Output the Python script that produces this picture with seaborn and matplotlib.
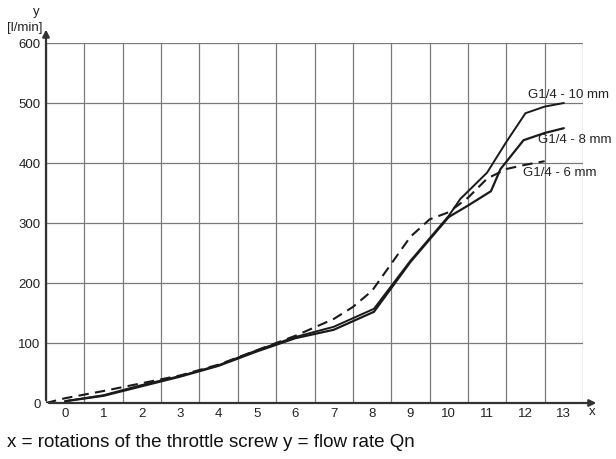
import matplotlib
matplotlib.use("Agg")
import matplotlib.pyplot as plt
import seaborn as sns
import pandas as pd

# data
x10 = [0, 1, 2, 3, 4, 5, 6, 7, 8.05, 9, 10, 10.3, 11, 11.5, 12, 12.5, 13]
y10 = [3, 13, 30, 45, 63, 88, 110, 127, 157, 237, 312, 340, 384, 435, 483, 494, 500]
x8 = [0, 1, 2, 3, 4, 5, 6, 7, 8.05, 9, 10, 10.5, 11.1, 11.35, 11.95, 12.5, 13]
y8 = [3, 12, 28, 44, 62, 86, 108, 122, 152, 235, 310, 329, 353, 390, 438, 450, 458]
x6 = [-0.5, 0, 1, 2, 3, 4, 5, 6, 7, 7.5, 8, 8.5, 9, 9.5, 10, 10.5, 11, 11.5, 12, 12.5]
y6 = [0, 8, 20, 33, 46, 64, 88, 112, 140, 160, 187, 232, 277, 306, 318, 342, 374, 390, 397, 403]
labels = ["G1/4 - 10 mm", "G1/4 - 8 mm", "G1/4 - 6 mm"]
x_ticks = list(range(0, 14))
y_ticks = [0, 100, 200, 300, 400, 500, 600]

sns.set_theme(style="white")
plt.rcParams['font.family'] = ['Liberation Sans', 'DejaVu Sans']

fig = plt.figure(figsize=(6.16, 4.6), dpi=100)
ax = fig.add_axes([46/616, 56/460, (583-46)/616, 360/460])

df10 = pd.DataFrame({"x": x10, "y": y10})
df8 = pd.DataFrame({"x": x8, "y": y8})
df6 = pd.DataFrame({"x": x6, "y": y6})
lc = "#1a1a1a"
sns.lineplot(data=df10, x="x", y="y", ax=ax, sort=False, estimator=None, color=lc, lw=1.4)
sns.lineplot(data=df8, x="x", y="y", ax=ax, sort=False, estimator=None, color=lc, lw=1.6)
sns.lineplot(data=df6, x="x", y="y", ax=ax, sort=False, estimator=None, color=lc, lw=1.5,
             linestyle=(0, (5, 3)))

ax.set_xlim(-0.5, 13.5)
ax.set_ylim(0, 600)
# grid lines
for k in range(0, 15):
    ax.axvline(-0.5 + k, color="#7a7a7a", lw=0.9, zorder=0)
for v in y_ticks[1:]:
    ax.axhline(v, color="#7a7a7a", lw=0.9, zorder=0)

ax.set_xticks(x_ticks)
ax.set_xticklabels([str(t) for t in x_ticks])
ax.set_yticks(y_ticks)
ax.set_yticklabels([str(t) for t in y_ticks])
ax.tick_params(axis="both", length=0, labelsize=9.5, colors="#222222", pad=3)
ax.tick_params(axis="y", pad=4)
ax.set_xlabel("")
ax.set_ylabel("")
for s in ["top", "right", "bottom", "left"]:
    ax.spines[s].set_visible(False)

# axes with arrows
ax.annotate("", xy=(1.03, 0), xytext=(0, 0), xycoords="axes fraction",
            arrowprops=dict(arrowstyle="-|>", color="#333333", lw=1.6, mutation_scale=10),
            annotation_clip=False)
ax.annotate("", xy=(0, 1.045), xytext=(0, 0), xycoords="axes fraction",
            arrowprops=dict(arrowstyle="-|>", color="#333333", lw=1.6, mutation_scale=10),
            annotation_clip=False)
fig.text(592/616, 1 - 412/460, "x", ha="center", va="center", fontsize=9.5, color="#222222")
fig.text(36/616, 1 - 12/460, "y", ha="center", va="center", fontsize=9.5, color="#222222")
fig.text(42/616, 1 - 28/460, "[l/min]", ha="right", va="center", fontsize=9.5, color="#222222")

# curve labels
ax.text(13.12, 515, labels[0], ha="center", va="center", fontsize=9.5, color="#222222", clip_on=False)
ax.text(13.28, 440, labels[1], ha="center", va="center", fontsize=9.5, color="#222222", clip_on=False)
ax.text(12.9, 385, labels[2], ha="center", va="center", fontsize=9.5, color="#222222", clip_on=False)

fig.text(7/616, 1 - 443/460, "x = rotations of the throttle screw y = flow rate Qn",
         ha="left", va="center", fontsize=13.5, color="#111111")

fig.savefig("out.png", dpi=100)
